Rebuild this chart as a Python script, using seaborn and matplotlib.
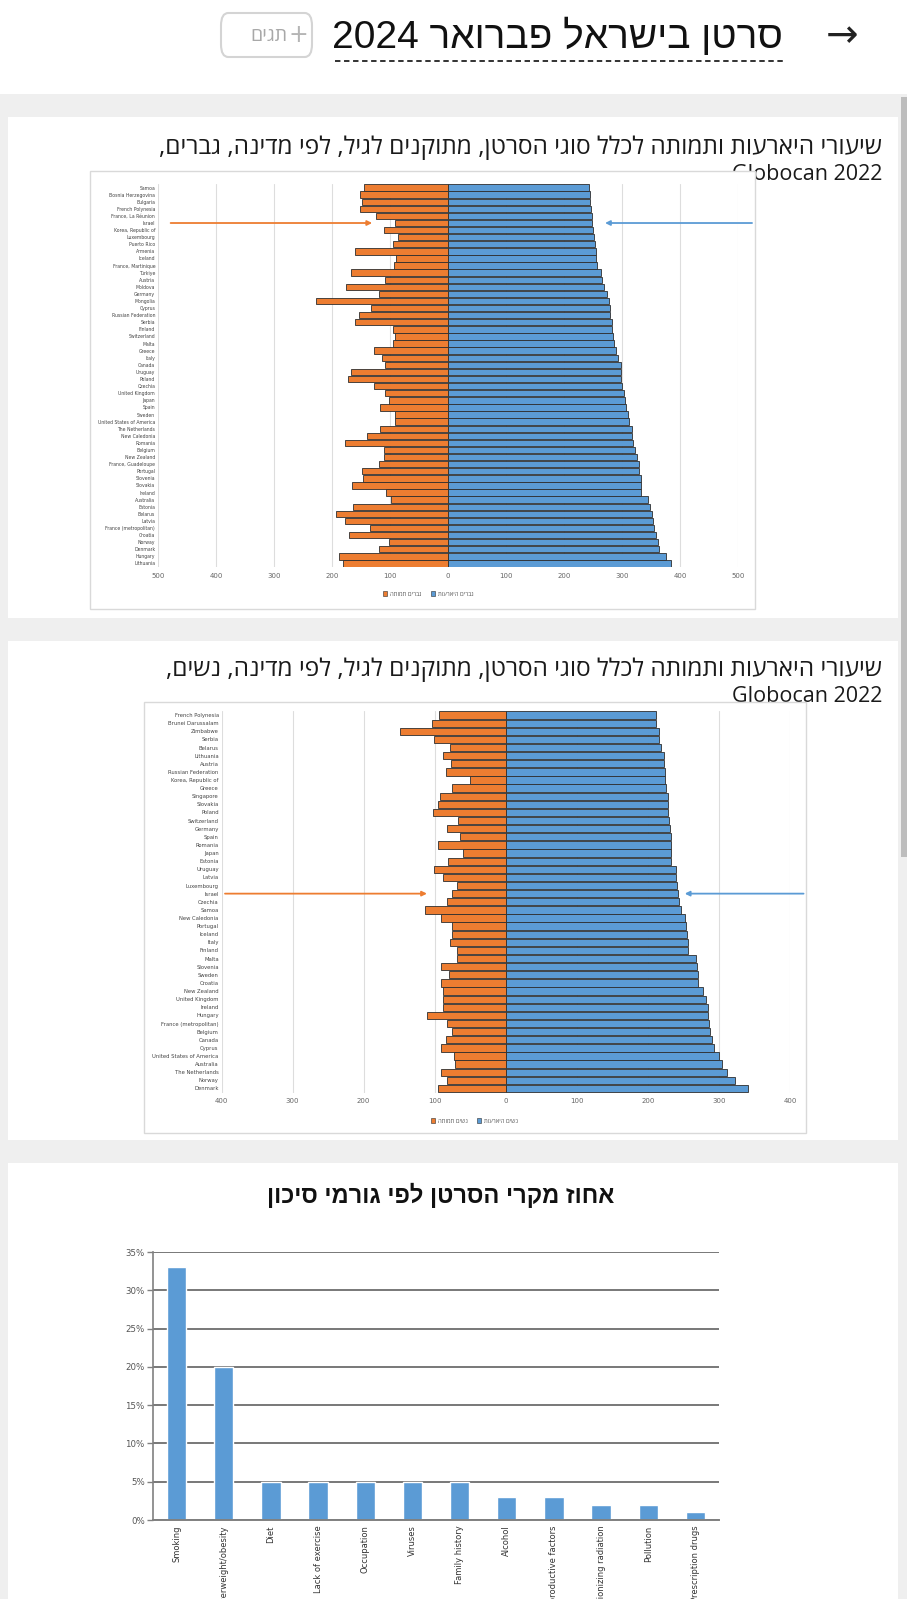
import re
import numpy as np
import seaborn as sns
import matplotlib
matplotlib.use("Agg")
import matplotlib.pyplot as plt
from matplotlib.patches import Rectangle, FancyBboxPatch, Patch
from matplotlib.lines import Line2D

# ---- data ----
men_countries = [
    "Samoa", "Bosnia Herzegovina", "Bulgaria", "French Polynesia", "France, La Réunion",
    "Israel", "Korea, Republic of", "Luxembourg", "Puerto Rico", "Armenia", "Iceland",
    "France, Martinique", "Türkiye", "Austria", "Moldova", "Germany", "Mongolia", "Cyprus",
    "Russian Federation", "Serbia", "Finland", "Switzerland", "Malta", "Greece", "Italy",
    "Canada", "Uruguay", "Poland", "Czechia", "United Kingdom", "Japan", "Spain", "Sweden",
    "United States of America", "The Netherlands", "New Caledonia", "Romania", "Belgium",
    "New Zealand", "France, Guadeloupe", "Portugal", "Slovenia", "Slovakia", "Ireland",
    "Australia", "Estonia", "Belarus", "Latvia", "France (metropolitan)", "Croatia",
    "Norway", "Denmark", "Hungary", "Lithuania",
]
men_incidence = [
    243, 244, 245, 247, 248, 249, 250, 252, 253, 255, 256, 257, 263, 266, 269, 274, 278,
    279, 280, 282, 283, 284, 287, 290, 293, 299, 299, 299, 300, 303, 306, 307, 310, 312,
    317, 318, 319, 322, 326, 329, 330, 332, 333, 333, 344, 348, 351, 353, 355, 358, 362,
    364, 376, 385,
]
men_mortality = [
    145, 151, 148, 152, 125, 92, 110, 87, 95, 160, 90, 93, 168, 109, 176, 119, 227, 133,
    153, 160, 94, 92, 95, 128, 113, 109, 168, 172, 128, 109, 101, 117, 91, 91, 117, 140,
    177, 111, 111, 119, 148, 147, 166, 107, 98, 164, 193, 177, 135, 171, 102, 119, 188, 181,
]

women_countries = [
    "French Polynesia", "Brunei Darussalam", "Zimbabwe", "Serbia", "Belarus", "Lithuania",
    "Austria", "Russian Federation", "Korea, Republic of", "Greece", "Singapore", "Slovakia",
    "Poland", "Switzerland", "Germany", "Spain", "Romania", "Japan", "Estonia", "Uruguay",
    "Latvia", "Luxembourg", "Israel", "Czechia", "Samoa", "New Caledonia", "Portugal",
    "Iceland", "Italy", "Finland", "Malta", "Slovenia", "Sweden", "Croatia", "New Zealand",
    "United Kingdom", "Ireland", "Hungary", "France (metropolitan)", "Belgium", "Canada",
    "Cyprus", "United States of America", "Australia", "The Netherlands", "Norway", "Denmark",
]
women_incidence = [
    211, 211, 215, 216, 218, 222, 223, 224, 224, 226, 228, 228, 229, 230, 231, 232, 233,
    233, 233, 240, 240, 241, 242, 244, 246, 252, 253, 255, 257, 257, 268, 269, 271, 271,
    278, 282, 284, 285, 286, 288, 290, 293, 300, 304, 311, 323, 341,
]
women_mortality = [
    94, 104, 149, 101, 79, 88, 77, 84, 50, 75, 92, 95, 103, 67, 83, 65, 95, 60, 81, 101,
    89, 68, 75, 82, 113, 91, 76, 76, 78, 68, 69, 91, 80, 91, 89, 88, 89, 111, 82, 76, 84,
    91, 73, 71, 91, 82, 96,
]

risk_factors = [
    "Smoking", "Overweight/obesity", "Diet", "Lack of exercise", "Occupation", "Viruses",
    "Family history", "Alcohol", "Reproductive factors", "UV/ionizing radiation",
    "Pollution", "Prescription drugs",
]
risk_percent = [33, 20, 5, 5, 5, 5, 5, 3, 3, 2, 2, 1]

page_title = "סרטן בישראל פברואר 2024"
men_title = "שיעורי היארעות ותמותה לכלל סוגי הסרטן, מתוקנים לגיל, לפי מדינה, גברים,"
women_title = "שיעורי היארעות ותמותה לכלל סוגי הסרטן, מתוקנים לגיל, לפי מדינה, נשים,"
source_line = "Globocan 2022"
risk_title = "אחוז מקרי הסרטן לפי גורמי סיכון"
men_legend = ["גברים תמותה", "גברים היארעות"]
women_legend = ["נשים תמותה", "נשים היארעות"]

BLUE = "#5b9bd5"
ORANGE = "#ed7d31"
EDGE = "#2e2e2e"
HEB = ["Open Sans", "DejaVu Sans"]
HEB_BOLD = ["Liberation Sans", "DejaVu Sans"]

W, H = 907, 1599


def rtl(s):
    # matplotlib has no bidi layout, so flip to visual order
    r = s[::-1]
    return re.sub(r"[A-Za-z0-9]+", lambda m: m.group(0)[::-1], r)


def rect(x0, y0, x1, y1):
    return [x0 / W, 1 - y1 / H, (x1 - x0) / W, (y1 - y0) / H]


def fx(x):
    return x / W


def fy(y):
    return 1 - y / H


def add_box(x0, y0, x1, y1, **kw):
    r = Rectangle((fx(x0), fy(y1)), (x1 - x0) / W, (y1 - y0) / H,
                  transform=fig.transFigure, **kw)
    fig.add_artist(r)


sns.set_style("white")
plt.rcParams["font.family"] = ["DejaVu Sans"]

fig = plt.figure(figsize=(W / 100, H / 100), dpi=100)
fig.patch.set_facecolor("white")

# page background, cards, scrollbar
add_box(0, 94, W, H, facecolor="#efefef", edgecolor="none", zorder=-10)
add_box(8, 117, 898, 618, facecolor="white", edgecolor="none", zorder=-9)
add_box(8, 641, 898, 1140, facecolor="white", edgecolor="none", zorder=-9)
add_box(8, 1163, 898, H + 5, facecolor="white", edgecolor="none", zorder=-9)
add_box(901, 97, 907, 857, facecolor="#bdbdbd", edgecolor="none", zorder=-8)

# header
fig.text(fx(783), fy(37), rtl(page_title), ha="right", va="center", fontsize=28,
         family=["Liberation Sans Narrow", "Liberation Sans", "DejaVu Sans"], color="#111111")
fig.add_artist(Line2D([fx(335), fx(783)], [fy(61), fy(61)], transform=fig.transFigure,
                      color="#222222", lw=1.3, ls=(0, (3, 2))))
fig.text(fx(842), fy(36), "→", ha="center", va="center", fontsize=28, color="#222222")
tag = FancyBboxPatch((fx(221), fy(57)), (312 - 221) / W, (57 - 13) / H,
                     boxstyle="round,pad=0,rounding_size=0.008", transform=fig.transFigure,
                     facecolor="white", edgecolor="#d4d4d4", lw=1.5)
fig.add_artist(tag)
fig.text(fx(298), fy(35), "+", ha="center", va="center", fontsize=17, color="#b5b5b5")
fig.text(fx(287), fy(36), rtl("תגים"), ha="right", va="center", fontsize=14,
         family=HEB, color="#a8a8a8")


def card_titles(title, y):
    fig.text(fx(882), fy(y), rtl(title), ha="right", va="center", fontsize=17.6,
             family=HEB, color="#1a1a1a", zorder=-3)
    fig.text(fx(882), fy(y + 26), source_line, ha="right", va="center", fontsize=15.5,
             family=HEB, color="#1a1a1a", zorder=-3)


def pyramid(rect_px, countries, inc, mort, lim, legend_labels, legend_xy, label_size,
            israel_arrows):
    ax = fig.add_axes(rect(*rect_px))
    ax.set_facecolor("none")
    sns.barplot(x=inc, y=countries, orient="h", color=BLUE, width=0.9,
                edgecolor=EDGE, linewidth=0.6, saturation=1, ax=ax)
    sns.barplot(x=[-v for v in mort], y=countries, orient="h", color=ORANGE, width=0.9,
                edgecolor=EDGE, linewidth=0.6, saturation=1, ax=ax)
    ax.set_xlim(-lim, lim)
    ax.set_ylim(len(countries) - 0.5, -0.5)
    ticks = list(range(-lim, lim + 1, 100))
    ax.set_xticks(ticks)
    ax.set_xticklabels([str(abs(t)) for t in ticks], fontsize=5, color="#666666")
    ax.tick_params(axis="y", labelsize=label_size, labelcolor="#444444", length=0, pad=2)
    ax.tick_params(axis="x", length=0, pad=4)
    ax.grid(axis="x", color="#dddddd", lw=0.8)
    ax.set_axisbelow(True)
    ax.set_xlabel("")
    ax.set_ylabel("")
    for s in ax.spines.values():
        s.set_visible(False)
    handles = [Patch(facecolor=ORANGE, edgecolor=EDGE, lw=0.4),
               Patch(facecolor=BLUE, edgecolor=EDGE, lw=0.4)]
    ax.legend(handles, [rtl(t) for t in legend_labels], loc="center",
              bbox_to_anchor=(fx(legend_xy[0]), fy(legend_xy[1])),
              bbox_transform=fig.transFigure, ncol=2, frameon=False,
              prop={"family": HEB, "size": 4.2}, handlelength=0.8, handleheight=0.8,
              handletextpad=0.4, columnspacing=1.6, labelcolor="#555555")
    row, o0, o1, b0, b1 = israel_arrows
    ax.annotate("", xy=(o1, row), xytext=(o0, row), annotation_clip=False,
                arrowprops=dict(arrowstyle="-|>", color=ORANGE, lw=1.3, mutation_scale=7))
    ax.annotate("", xy=(b1, row), xytext=(b0, row), annotation_clip=False,
                arrowprops=dict(arrowstyle="-|>", color=BLUE, lw=1.3, mutation_scale=7))
    return ax


# men chart
card_titles(men_title, 148)
add_box(90, 171, 755, 609, facecolor="white", edgecolor="#d9d9d9", lw=1, zorder=-2)
pyramid((158, 184, 738, 567), men_countries, men_incidence, men_mortality, 500,
        men_legend, (428, 594), 3.3, (men_countries.index("Israel"), -483, -126, 529, 266))

# women chart
card_titles(women_title, 670)
add_box(144, 702, 806, 1133, facecolor="white", edgecolor="#d9d9d9", lw=1, zorder=-2)
pyramid((221.5, 711, 790, 1092.5), women_countries, women_incidence, women_mortality, 400,
        women_legend, (474, 1121), 3.8,
        (women_countries.index("Israel"), -399, -107, 423, 248))

# risk factor chart
fig.text(fx(441), fy(1195), rtl(risk_title), ha="center", va="center", fontsize=17,
         fontweight="bold", family=HEB_BOLD, color="#111111")
ax3 = fig.add_axes(rect(153, 1252, 719, 1520))
sns.barplot(x=risk_factors, y=risk_percent, color=BLUE, width=0.41, saturation=1, ax=ax3)
ax3.set_xlim(-0.47, 11.5)
ax3.set_ylim(0, 35)
ax3.set_yticks(range(0, 36, 5))
ax3.set_yticklabels([f"{v}%" for v in range(0, 36, 5)], fontsize=6.2, color="#555555")
ax3.grid(axis="y", color="#787878", lw=1.4)
ax3.set_axisbelow(True)
ax3.set_xticks(np.arange(len(risk_factors)))
ax3.set_xticklabels(risk_factors, rotation=90, fontsize=6, color="#333333")
ax3.set_xticks(np.arange(len(risk_factors)) - 0.5, minor=True)
ax3.tick_params(axis="x", which="major", length=0, pad=4)
ax3.tick_params(axis="x", which="minor", length=4, color="#808080", width=1)
ax3.tick_params(axis="y", length=4, color="#808080", width=1, pad=2, left=True)
ax3.set_xlabel("")
ax3.set_ylabel("")
for side in ["top", "right"]:
    ax3.spines[side].set_visible(False)
ax3.spines["left"].set_color("#808080")
ax3.spines["bottom"].set_color("#808080")
ax3.spines["left"].set_linewidth(1.2)
ax3.spines["bottom"].set_linewidth(1.4)

fig.savefig("out.png", dpi=100)
